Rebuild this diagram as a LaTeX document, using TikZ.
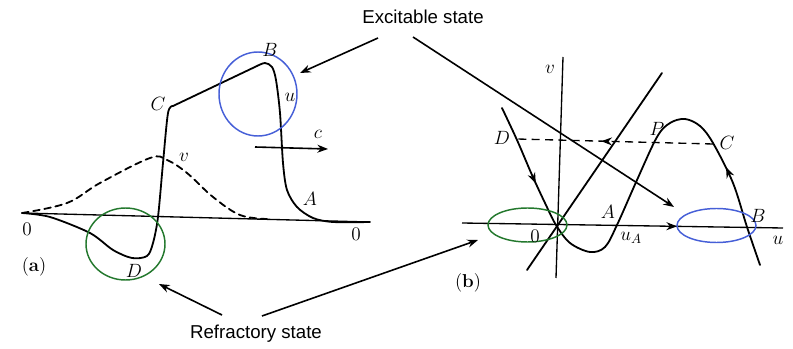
\documentclass[tikz,border=0pt]{standalone}
\usepackage{fontspec}
\newfontfamily\labfont{Liberation Sans}
\usetikzlibrary{arrows.meta,shapes.geometric,decorations.markings}
\definecolor{cblue}{RGB}{70,95,215}
\definecolor{cgreen}{RGB}{35,120,45}
\begin{document}
\begin{tikzpicture}[x=0.75pt,y=-0.75pt,
  curve/.style={line width=1.35pt, line join=round, line cap=round},
  thin line/.style={line width=1pt},
  pointer/.style={line width=1.2pt, -{Stealth[length=8pt,width=6pt]}},
  lbl/.style={font=\fontsize{14}{16}\selectfont, inner sep=1pt},
  statetext/.style={font=\labfont\fontsize{14}{16}\selectfont, inner sep=1pt},
  ring/.style={ellipse, draw, line width=1.1pt, inner sep=0pt},
  midtip/.style={postaction={decorate, decoration={markings,
      mark=at position #1 with {\arrow[solid]{Stealth[length=8pt,width=6pt]}}}}},
  midtiprev/.style={postaction={decorate, decoration={markings,
      mark=at position #1 with {\arrow[solid]{Stealth[length=8pt,width=6pt,reversed]}}}}}
]
\useasboundingbox (0,0) rectangle (793,349);

% ---------- panel (a) ----------
\coordinate (a0) at (22,213);
\coordinate (aend) at (370,222);
\draw[thin line] (a0) -- (aend);
% u profile
\draw[curve] plot[smooth, tension=0.5] coordinates {(22,213) (50,217) (90,233) (113,250) (132,258) (147,256) (153,243) (158,217) (163,163) (168,113) (173,106)}
  -- (257,66)
  plot[smooth, tension=0.5] coordinates {(257,66) (265,63) (272,67) (276,80) (280,113) (283,163) (287,190) (297,207) (313,218) (333,222) (370,222)};
% v profile
\draw[curve, dashed, dash pattern=on 5pt off 3.5pt] plot[smooth, tension=0.6] coordinates {(22,213) (67,203) (100,183) (150,158) (167,160) (187,173) (213,197) (240,215) (267,219)};

\node[ring, cblue, minimum width=58.5pt, minimum height=63pt] (ringB) at (258,94) {};
\node[ring, cgreen, minimum width=59.25pt, minimum height=54pt] (ringD) at (125.5,244) {};

\node[lbl] (lzeroL) at (27,229) {$0$};
\node[lbl] (lzeroR) at (356,234) {$0$};
\node[lbl] (lBa) at (270,50) {$B$};
\node[lbl] (lua) at (290,97) {$u$};
\node[lbl] (lCa) at (158,104) {$C$};
\node[lbl] (lva) at (184,157) {$v$};
\node[lbl] (lca) at (318,134) {$c$};
\node[lbl] (lAa) at (310,199) {$A$};
\node[lbl] (lDa) at (134,271) {$D$};
\node[lbl] (pa) at (34,267) {(\textbf{a})};

\coordinate (cS) at (255,147);
\coordinate (cE) at (328,149);
\draw[pointer] (cS) -- (cE);

% ---------- panel (b) ----------
\coordinate (vb) at (556,278);
\coordinate (vt) at (563,57);
\draw[thin line] (vb) -- (vt);
\coordinate (ul) at (462,223);
\coordinate (ur) at (783,228);
\draw[thin line, midtip=0.67] (ul) -- (ur);
\coordinate (gl) at (527,270);
\coordinate (gr) at (662,73);
\draw[curve] (gl) -- (gr);
% cubic nullcline
\draw[curve, midtip=0.16, midtiprev=0.82] plot[smooth, tension=0.55] coordinates {(502,108) (517,140) (532,175) (545,203) (556,225) (570,243) (590,252) (605,247) (617,225) (637,180) (657,137) (670,123) (685,119) (700,126) (713,143) (733,183) (747,227) (760,265)};
% dashed jump C -> D
\coordinate (jC) at (713,144);
\coordinate (jD) at (517,139);
\draw[thin line, dashed, dash pattern=on 6pt off 4pt, midtip=0.57] (jC) -- (jD);

\node[ring, cgreen, minimum width=59.25pt, minimum height=25.5pt] (ringO) at (527.5,225) {};
\node[ring, cblue, minimum width=59.25pt, minimum height=25.5pt] (ringBb) at (716.5,225.5) {};

\node[lbl] (lvb) at (550,69) {$v$};
\node[lbl] (lub) at (778,240) {$u$};
\node[lbl] (lzb) at (535,236) {$0$};
\node[lbl] (luA) at (631,238) {$u_A$};
\node[lbl] (lAb) at (608,212) {$A$};
\node[lbl] (lBb) at (758,216) {$B$};
\node[lbl] (lPb) at (657,129) {$P$};
\node[lbl] (lCb) at (727,143) {$C$};
\node[lbl] (lDb) at (502,138) {$D$};
\node[lbl] (pb) at (468,283) {(\textbf{b})};

% ---------- annotations ----------
\node[statetext] (exc) at (423,17) {Excitable state};
\node[statetext] (ref) at (256,334) {Refractory state};
\coordinate (exL) at (378,38);
\coordinate (exR) at (413,37);
\coordinate (tipBa) at (300,73);
\coordinate (tipBb) at (674,207);
\draw[pointer] (exL) -- (tipBa);
\draw[pointer] (exR) -- (tipBb);
\coordinate (rfL) at (222,315);
\coordinate (rfR) at (262,316);
\coordinate (tipDa) at (159,284);
\coordinate (tipDb) at (478,240);
\draw[pointer] (rfL) -- (tipDa);
\draw[pointer] (rfR) -- (tipDb);
\end{tikzpicture}
\end{document}
